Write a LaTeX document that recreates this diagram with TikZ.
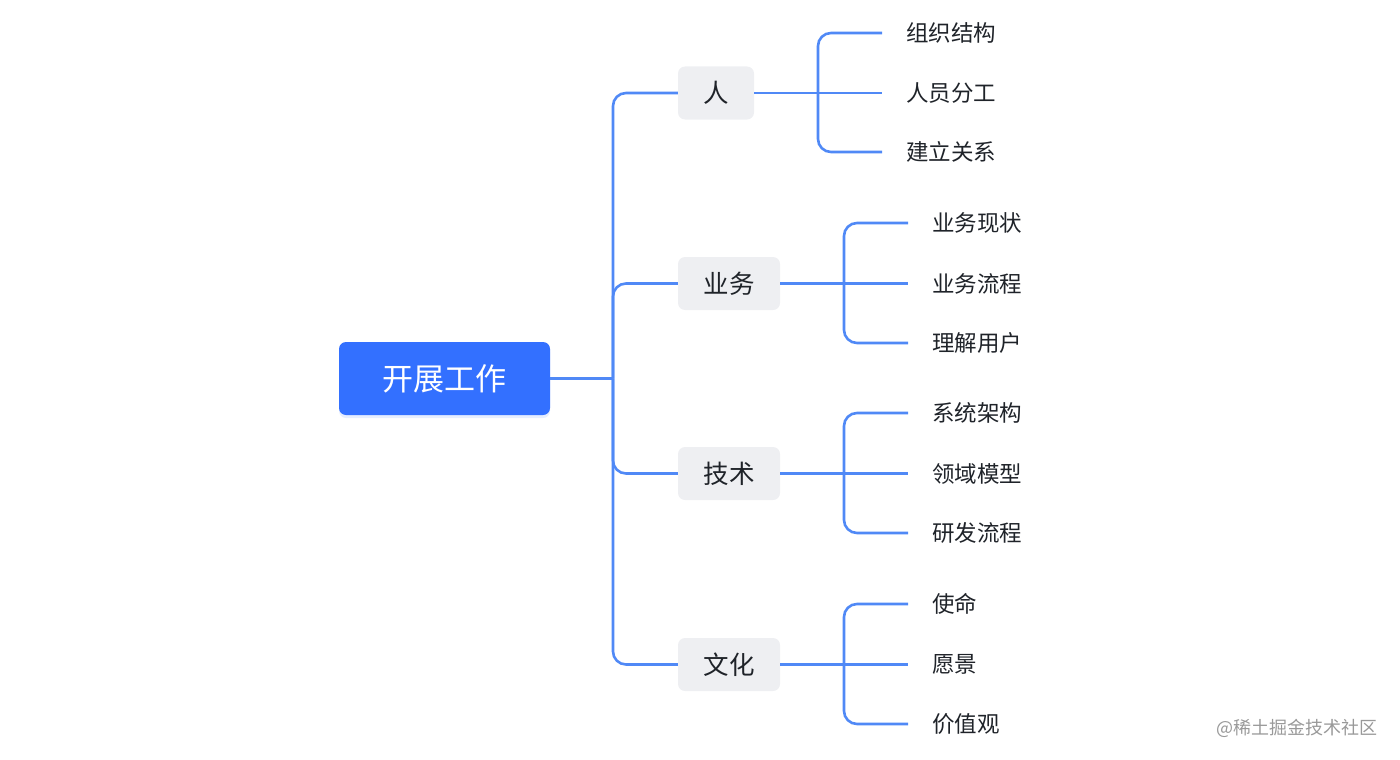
\documentclass[tikz,border=0pt]{standalone}
\usepackage{fontspec}
\setmainfont{Noto Sans CJK SC}
\usetikzlibrary{shadows}

\definecolor{rootblue}{HTML}{3370FF}
\definecolor{linkblue}{HTML}{5089F6}
\definecolor{topicgray}{HTML}{EEEFF2}
\definecolor{inkdark}{HTML}{1F2329}

\begin{document}
\begin{tikzpicture}[
  x=1pt, y=-1pt,
  root/.style={rectangle, rounded corners=7pt, fill=rootblue, text=white,
    minimum width=211pt, minimum height=73pt, font=\fontsize{31}{35}\selectfont,
    drop shadow={shadow xshift=0pt, shadow yshift=-3pt, opacity=0.12, fill=rootblue}},
  topic/.style={rectangle, rounded corners=7pt, fill=topicgray, text=inkdark,
    minimum height=53pt, font=\fontsize{25.5}{29}\selectfont},
  leaf/.style={anchor=west, inner xsep=24pt, inner ysep=0pt, text=inkdark,
    font=\fontsize{22.5}{26}\selectfont},
  link/.style={draw=linkblue, line width=2.6pt, rounded corners=13pt}
]
  \useasboundingbox (0,0) rectangle (1400,760);

  % root and first level
  \node[root] (work) at (444.5,378.5) {开展工作};
  \node[topic, minimum width=76pt] (ren) at (716,93) {人};
  \node[topic, minimum width=102pt] (yewu) at (729,283.5) {业务};
  \node[topic, minimum width=102pt] (jishu) at (729,473.5) {技术};
  \node[topic, minimum width=102pt] (wenhua) at (729,664.5) {文化};

  \coordinate (trunk) at (613,378.5);
  \draw[link] (work.east) -- (trunk);
  \draw[link] (trunk) |- (ren.west);
  \draw[link] (trunk) |- (yewu.west);
  \draw[link] (trunk) |- (jishu.west);
  \draw[link] (trunk) |- (wenhua.west);

  % second level
  \node[leaf] (ren1) at (882,33) {组织结构};
  \node[leaf] (ren2) at (882,93) {人员分工};
  \node[leaf] (ren3) at (882,152) {建立关系};

  \node[leaf] (yewu1) at (908,223) {业务现状};
  \node[leaf] (yewu2) at (908,283.5) {业务流程};
  \node[leaf] (yewu3) at (908,343) {理解用户};

  \node[leaf] (jishu1) at (908,413) {系统架构};
  \node[leaf] (jishu2) at (908,473.5) {领域模型};
  \node[leaf] (jishu3) at (908,533) {研发流程};

  \node[leaf] (wenhua1) at (908,604) {使命};
  \node[leaf] (wenhua2) at (908,664.5) {愿景};
  \node[leaf] (wenhua3) at (908,724) {价值观};

  \coordinate (jren) at (818,93);
  \coordinate (jyewu) at (844,283.5);
  \coordinate (jjishu) at (844,473.5);
  \coordinate (jwenhua) at (844,664.5);

  \draw[link] (ren.east) -- (jren);
  \draw[link] (jren) |- (ren1.west);
  \draw[link] (jren) -- (ren2.west);
  \draw[link] (jren) |- (ren3.west);

  \draw[link] (yewu.east) -- (jyewu);
  \draw[link] (jyewu) |- (yewu1.west);
  \draw[link] (jyewu) -- (yewu2.west);
  \draw[link] (jyewu) |- (yewu3.west);

  \draw[link] (jishu.east) -- (jjishu);
  \draw[link] (jjishu) |- (jishu1.west);
  \draw[link] (jjishu) -- (jishu2.west);
  \draw[link] (jjishu) |- (jishu3.west);

  \draw[link] (wenhua.east) -- (jwenhua);
  \draw[link] (jwenhua) |- (wenhua1.west);
  \draw[link] (jwenhua) -- (wenhua2.west);
  \draw[link] (jwenhua) |- (wenhua3.west);

  % watermark
  \node[anchor=east, text=black!40, font=\fontsize{18}{22}\selectfont] (mark) at (1381,728) {@稀土掘金技术社区};
\end{tikzpicture}
\end{document}
